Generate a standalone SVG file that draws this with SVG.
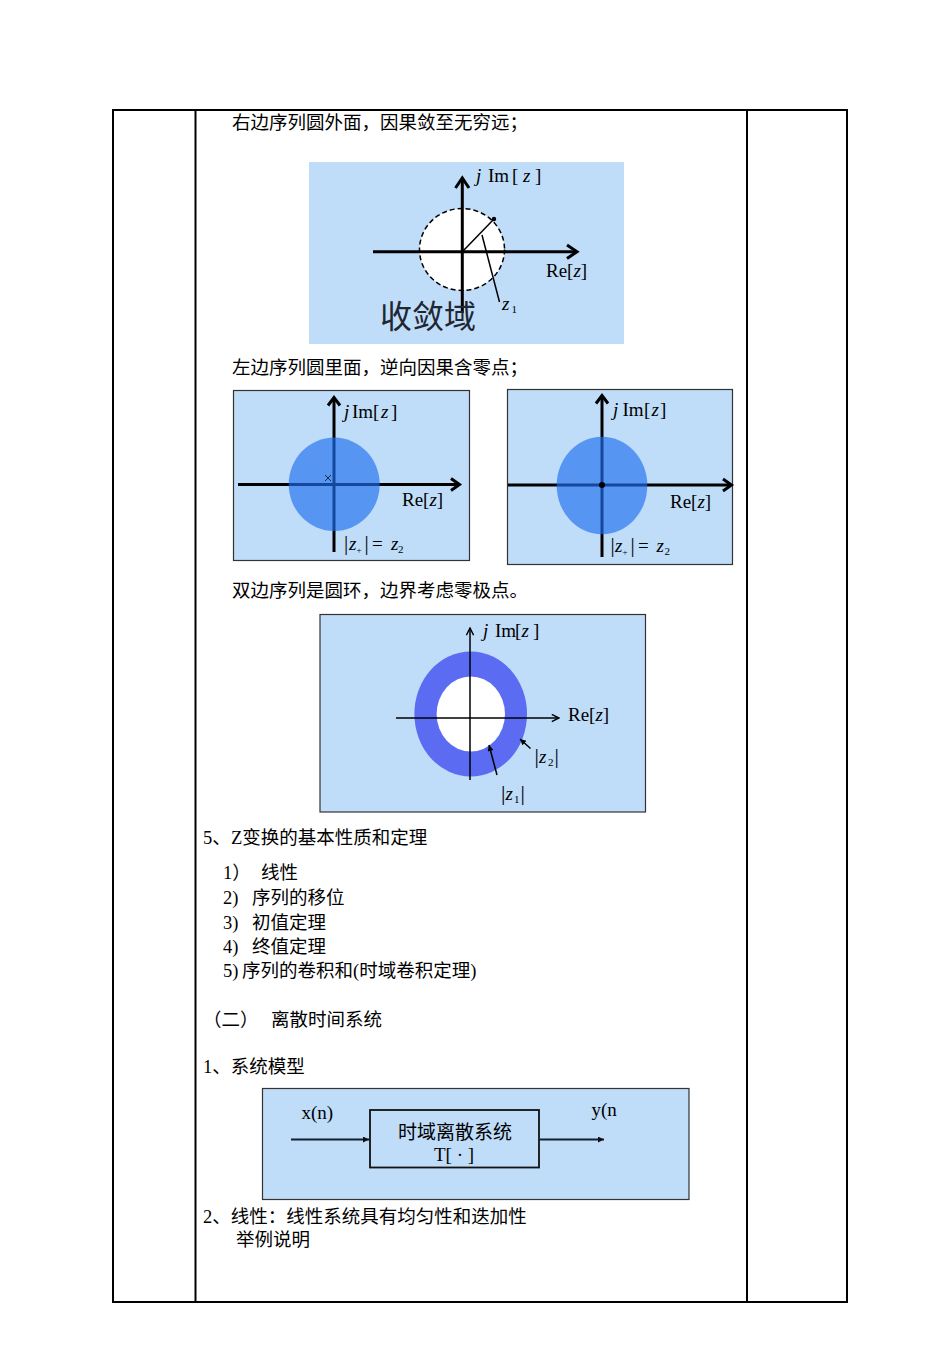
<svg xmlns="http://www.w3.org/2000/svg" width="952" height="1347" viewBox="0 0 952 1347">
<style>
.t{font-family:"Liberation Serif","Noto Sans CJK SC",serif;font-size:18.5px;fill:#000}
.m{font-family:"Liberation Serif",serif;font-size:19px;fill:#000}
.i{font-style:italic}
.s{font-size:11px}
.bg{fill:#bfdcf9}
.box{fill:#bfdcf9;stroke:#333;stroke-width:1.2}
.ax{stroke:#000;fill:none;stroke-width:3}
.thin{stroke:#000;fill:none;stroke-width:1.5}
.disk{fill:#1f6ef0;fill-opacity:0.65}
</style>
<defs>
<marker id="tri" viewBox="0 0 10 10" refX="10" refY="5" markerWidth="9" markerHeight="6" markerUnits="userSpaceOnUse" orient="auto"><path d="M0,0 L10,5 L0,10 z" fill="#111"/></marker>
<marker id="tri2" viewBox="0 0 10 10" refX="10" refY="5" markerWidth="8" markerHeight="6" markerUnits="userSpaceOnUse" orient="auto"><path d="M0,0 L10,5 L0,10 z" fill="#000"/></marker>
<marker id="vee" viewBox="0 0 10 10" refX="9" refY="5" markerWidth="9" markerHeight="9" markerUnits="userSpaceOnUse" orient="auto"><path d="M1,1 L9,5 L1,9" fill="none" stroke="#000" stroke-width="1.6"/></marker>
</defs>
<rect width="952" height="1347" fill="#fff"/>

<g id="table" stroke="#000" stroke-width="2" fill="none">
<rect x="113" y="110" width="734" height="1192"/>
<line x1="195.5" y1="110" x2="195.5" y2="1302"/>
<line x1="747" y1="110" x2="747" y2="1302"/>
</g>

<g id="text-blocks">
<text class="t" x="232" y="129">右边序列圆外面，因果敛至无穷远；</text>
<text class="t" x="232" y="374">左边序列圆里面，逆向因果含零点；</text>
<text class="t" x="232" y="597">双边序列是圆环，边界考虑零极点。</text>
<text class="t" x="203" y="844">5、<tspan x="231">Z变换的基本性质和定理</tspan></text>
<text class="t" x="223" y="879">1）<tspan x="261">线性</tspan></text>
<text class="t" x="223" y="904">2)<tspan x="252">序列的移位</tspan></text>
<text class="t" x="223" y="929">3)<tspan x="252">初值定理</tspan></text>
<text class="t" x="223" y="953">4)<tspan x="252">终值定理</tspan></text>
<text class="t" x="223" y="977">5)<tspan x="242">序列的卷积和(时域卷积定理)</tspan></text>
<text class="t" x="203" y="1026">（二）<tspan x="271">离散时间系统</tspan></text>
<text class="t" x="203" y="1073">1、系统模型</text>
<text class="t" x="203" y="1223">2、线性：线性系统具有均匀性和迭加性</text>
<text class="t" x="236" y="1246">举例说明</text>
</g>

<g id="fig-right-sided">
<rect x="309" y="162" width="315" height="182" class="bg"/>
<ellipse cx="462" cy="249.5" rx="42.5" ry="41" fill="#fff" stroke="#000" stroke-width="1.5" stroke-dasharray="5 3"/>
<line x1="373" y1="251.7" x2="576" y2="251.7" class="ax" stroke-width="3.5"/>
<polyline points="567,245 577,251.7 567,258.5" class="ax" stroke-width="3.5"/>
<line x1="462.3" y1="313" x2="462.3" y2="179" class="ax" stroke-width="3.5"/>
<polyline points="455.5,188 462.3,178 469,188" class="ax" stroke-width="3.5"/>
<line x1="462.3" y1="251.7" x2="494" y2="219" class="thin"/>
<circle cx="494" cy="219" r="2.2" fill="#000"/>
<line x1="482" y1="235" x2="499.5" y2="302" class="thin" stroke-width="1.3"/>
<text class="m" y="182" font-size="20"><tspan class="i" x="476">j</tspan><tspan x="488">Im</tspan><tspan x="512">[</tspan><tspan class="i" x="523">z</tspan><tspan x="535">]</tspan></text>
<text class="m" x="546" y="277">Re[<tspan class="i">z</tspan>]</text>
<text class="m"><tspan class="i" x="502" y="310">z</tspan><tspan class="s" x="511.5" y="313">1</tspan></text>
<text x="380" y="328" font-family="Noto Sans CJK SC,sans-serif" font-size="32" fill="#1f2733">收敛域</text>
</g>

<g id="fig-left-sided-1">
<rect x="233.5" y="390.5" width="236" height="170" class="box"/>
<line x1="334" y1="552" x2="334" y2="398" class="ax"/>
<polyline points="328,405.5 334,397.5 340,405.5" class="ax"/>
<line x1="238" y1="484.5" x2="459" y2="484.5" class="ax"/>
<polyline points="451,478.5 459.5,484.5 451,490.5" class="ax"/>
<ellipse cx="334.2" cy="484.3" rx="45.5" ry="46.7" class="disk"/>
<path d="M325,475 L331,481 M331,475 L325,481" stroke="#1a2a44" stroke-width="1"/>
<text class="m" y="418" font-size="18"><tspan class="i" x="344">j</tspan><tspan x="352">Im</tspan><tspan x="373">[</tspan><tspan class="i" x="381">z</tspan><tspan x="391">]</tspan></text>
<text class="m" x="402" y="506">Re[<tspan class="i">z</tspan>]</text>
<text class="m" font-size="18"><tspan x="344" y="550" font-size="21">|</tspan><tspan class="i" x="349" y="550">z</tspan><tspan x="356.5" y="553" font-size="9">+</tspan><tspan x="364.5" y="550" font-size="21">|</tspan><tspan x="372" y="550">=</tspan><tspan class="i" x="391" y="550">z</tspan><tspan class="s" x="398" y="553">2</tspan></text>
</g>

<g id="fig-left-sided-2">
<rect x="507.5" y="389.5" width="225" height="175" class="box"/>
<line x1="602" y1="557" x2="602" y2="396" class="ax"/>
<polyline points="596,403.5 602,395.5 608,403.5" class="ax"/>
<line x1="508" y1="485" x2="731" y2="485" class="ax"/>
<polyline points="723,479 731.5,485 723,491" class="ax"/>
<ellipse cx="602" cy="485.5" rx="45.3" ry="48.8" class="disk"/>
<circle cx="602" cy="485" r="3" fill="#000"/>
<text class="m" y="416" font-size="18"><tspan class="i" x="613">j</tspan><tspan x="622.5">Im</tspan><tspan x="644">[</tspan><tspan class="i" x="651.5">z</tspan><tspan x="660">]</tspan></text>
<text class="m" x="670" y="508">Re[<tspan class="i">z</tspan>]</text>
<text class="m" font-size="18"><tspan x="610.5" y="552" font-size="21">|</tspan><tspan class="i" x="615" y="552">z</tspan><tspan x="622.5" y="555" font-size="9">+</tspan><tspan x="630.5" y="552" font-size="21">|</tspan><tspan x="638" y="552">=</tspan><tspan class="i" x="656.5" y="552">z</tspan><tspan class="s" x="664.5" y="555">2</tspan></text>
</g>

<g id="fig-two-sided">
<rect x="320" y="614.5" width="325.5" height="197.5" class="box"/>
<ellipse cx="470.7" cy="714" rx="56.3" ry="62.5" fill="#5b6cf3"/>
<ellipse cx="470.8" cy="714" rx="34.2" ry="37.5" fill="#fff"/>
<line x1="470" y1="780" x2="470" y2="628" class="thin" marker-end="url(#vee)"/>
<line x1="396" y1="718" x2="559" y2="718" class="thin" marker-end="url(#vee)"/>
<line x1="530.5" y1="748.5" x2="520" y2="739" class="thin" marker-end="url(#tri2)"/>
<line x1="497" y1="775" x2="489" y2="745" class="thin" marker-end="url(#tri2)"/>
<text class="m" y="637"><tspan class="i" x="483">j</tspan><tspan x="495">Im</tspan><tspan x="515">[</tspan><tspan class="i" x="521.5">z</tspan><tspan x="533">]</tspan></text>
<text class="m" x="568" y="721">Re[<tspan class="i">z</tspan>]</text>
<text class="m"><tspan x="534.5" y="763" font-size="22">|</tspan><tspan class="i" x="539" y="763">z</tspan><tspan class="s" x="548" y="766">2</tspan><tspan x="554.5" y="763" font-size="22">|</tspan></text>
<text class="m"><tspan x="501" y="800" font-size="22">|</tspan><tspan class="i" x="505.5" y="800">z</tspan><tspan class="s" x="514" y="803">1</tspan><tspan x="520.5" y="800" font-size="22">|</tspan></text>
</g>

<g id="fig-system">
<rect x="262.5" y="1088.5" width="426.5" height="111" class="box"/>
<g id="node-system">
<rect x="370" y="1110" width="169" height="57.5" fill="#bfdcf9" stroke="#111" stroke-width="1.8"/>
<text x="455" y="1139" text-anchor="middle" font-family="Noto Sans CJK SC,sans-serif" font-size="19">时域离散系统</text>
<text class="m" x="454" y="1161" text-anchor="middle" font-size="18">T[ · ]</text>
</g>
<text class="m" x="301.5" y="1119">x(n)</text>
<text class="m" x="591.5" y="1116">y(n</text>
</g>

<g id="connectors" stroke="#14202c" stroke-width="1.8" fill="none">
<line x1="291" y1="1139.5" x2="369" y2="1139.5" marker-end="url(#tri)"/>
<line x1="539" y1="1139.5" x2="604" y2="1139.5" marker-end="url(#tri)"/>
</g>
</svg>
